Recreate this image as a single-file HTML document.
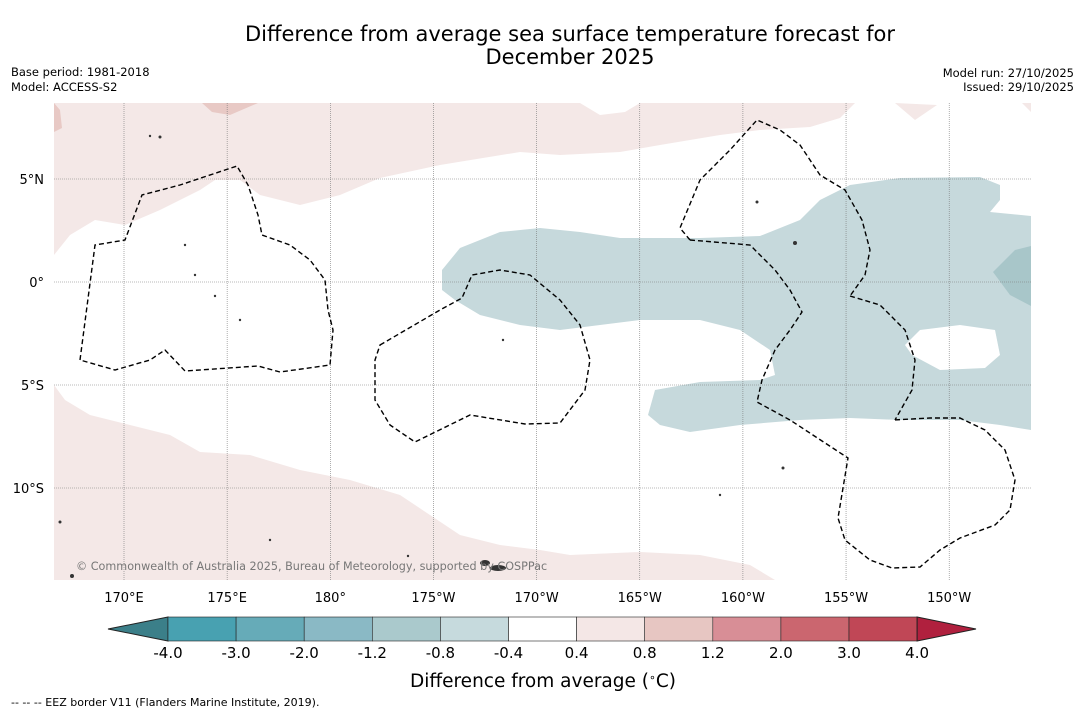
<!DOCTYPE html>
<html><head><meta charset="utf-8"><style>
body{margin:0;background:#fff;font-family:"Liberation Sans","DejaVu Sans",sans-serif;}
svg text{font-family:"DejaVu Sans","Liberation Sans",sans-serif;}
</style></head><body>
<svg id="chart" width="1085" height="713" xmlns="http://www.w3.org/2000/svg">
<text x="570" y="41" font-size="21" text-anchor="middle">Difference from average sea surface temperature forecast for</text>
<text x="570" y="64" font-size="21" text-anchor="middle">December 2025</text>
<text x="11" y="76" font-size="11.5">Base period: 1981-2018</text>
<text x="11" y="91" font-size="11.5">Model: ACCESS-S2</text>
<text x="1074" y="77" font-size="11.5" text-anchor="end">Model run: 27/10/2025</text>
<text x="1074" y="91" font-size="11.5" text-anchor="end">Issued: 29/10/2025</text>
<g>
<rect x="54" y="103" width="977" height="477" fill="#fff"/>
<path fill="#f4e8e7" d="M54,103 L855,103 L840,118 L810,127 L760,130 L720,135 L660,145 L620,152 L560,155 L520,152 L440,165 L380,178 L340,195 L300,205 L260,195 L240,180 L215,180 L200,190 L160,210 L125,225 L95,220 L70,235 L54,255 Z"/>
<path fill="#fff" d="M580,103 L600,115 L625,112 L640,103 Z"/>
<path fill="#e8c9c5" d="M202,103 L258,103 L230,115 L212,112 Z M54,103 L60,110 L62,128 L54,132 Z"/>
<path fill="#f4e8e7" d="M895,103 L937,105 L915,120 Z M1022,103 L1031,103 L1031,112 Z"/>
<path fill="#f4e8e7" d="M54,385 L65,400 L90,415 L130,425 L170,435 L200,452 L250,455 L300,470 L350,480 L400,495 L430,515 L460,535 L500,545 L540,550 L570,555 L640,552 L700,555 L750,565 L775,580 L54,580 Z"/>
<path fill="#c6d9dc" d="M442,270 L460,248 L500,232 L540,228 L580,232 L620,238 L700,238 L760,236 L800,220 L820,200 L850,185 L900,178 L980,177 L1000,185 L1000,200 L990,212 L1031,216 L1031,430 L1000,425 L960,420 L900,420 L850,418 L800,420 L740,425 L690,432 L660,425 L648,415 L655,390 L700,382 L760,380 L775,375 L770,350 L740,330 L700,320 L640,320 L600,325 L560,330 L520,325 L480,315 L455,300 L442,290 Z"/>
<path fill="#fff" d="M905,345 L920,330 L960,325 L995,330 L1000,355 L985,368 L940,370 L912,355 Z"/>
<path fill="#a8c6c9" d="M993,272 L1015,250 L1031,246 L1031,306 L1010,295 Z"/>
<g stroke="#777" stroke-width="0.6" stroke-dasharray="1,1" id="grid"></g>
<g fill="none" stroke="#000" stroke-width="1.4" stroke-dasharray="5,3">
<path d="M80,360 L95,245 L125,240 L142,195 L180,185 L237,166 L248,185 L258,215 L262,235 L290,245 L310,260 L325,280 L328,310 L333,330 L330,365 L280,372 L258,366 L185,371 L165,350 L150,360 L115,370 Z"/>
<path d="M380,345 L440,310 L462,298 L472,275 L500,270 L530,275 L560,300 L580,325 L590,360 L585,390 L560,423 L525,424 L470,415 L415,442 L390,425 L375,400 L375,360 Z"/>
<path d="M690,240 L680,228 L700,180 L730,150 L757,120 L780,130 L800,145 L820,175 L845,190 L862,220 L870,250 L865,275 L850,296"/>
<path d="M690,240 L750,245 L775,270 L790,290 L802,312 L790,330 L775,350 L762,380 L757,402 L790,420 L848,458 L838,518 L845,540 L870,560 L892,568 L920,567 L940,550 L960,538 L995,525 L1010,510 L1015,480 L1005,450 L985,430 L960,418 L930,418 L893,420"/>
<path d="M850,296 L880,305 L905,330 L915,360 L912,390 L895,420"/>
</g>
<g fill="#333">
<circle cx="185" cy="245" r="1.2"/><circle cx="195" cy="275" r="1.2"/><circle cx="215" cy="296" r="1.2"/><circle cx="240" cy="320" r="1.2"/><circle cx="503" cy="340" r="1.2"/><circle cx="795" cy="243" r="2"/><circle cx="757" cy="202" r="1.5"/><circle cx="783" cy="468" r="1.5"/><circle cx="720" cy="495" r="1.2"/><circle cx="60" cy="522" r="1.5"/><circle cx="270" cy="540" r="1.2"/><ellipse cx="498" cy="568" rx="8" ry="3"/><ellipse cx="485" cy="563" rx="5" ry="3"/><circle cx="72" cy="576" r="2"/><circle cx="408" cy="556" r="1.2"/><circle cx="160" cy="137" r="1.5"/><circle cx="150" cy="136" r="1.2"/>
</g>
<text x="76" y="570" font-size="11.2" fill="#777">© Commonwealth of Australia 2025, Bureau of Meteorology, supported by COSPPac</text>
</g>
<g id="axes"></g>
<g id="colorbar"></g>
<text x="543" y="687" font-size="18.5" text-anchor="middle">Difference from average (<tspan baseline-shift="super" font-size="11">∘</tspan>C)</text>
<text x="11" y="706" font-size="11">--  --  -- EEZ border V11 (Flanders Marine Institute, 2019).</text>
</svg>
<script>
const lonLabels=["170°E","175°E","180°","175°W","170°W","165°W","160°W","155°W","150°W"];
const lonValues=[170,175,180,185,190,195,200,205,210];
const latLabels=["5°N","0°","5°S","10°S"];
const latValues=[5,0,-5,-10];
const levels=["-4.0","-3.0","-2.0","-1.2","-0.8","-0.4","0.4","0.8","1.2","2.0","3.0","4.0"];
const binColors=["#48a1b1","#66abb8","#8ab9c5","#aac9cc","#c6dadd","#ffffff","#f4e7e6","#e7c6c2","#d88e96","#cb666f","#c04756"];
const underColor="#3b7f89", overColor="#b0203e";
const NS="http://www.w3.org/2000/svg";
const x=lon=>124+(lon-170)*20.63;
const y=lat=>282-lat*20.6;
const grid=document.getElementById('grid'),axes=document.getElementById('axes'),cb=document.getElementById('colorbar');
function mk(tag,at,parent){const e=document.createElementNS(NS,tag);for(const k in at)e.setAttribute(k,at[k]);parent.appendChild(e);return e;}
lonValues.forEach((v,i)=>{
 const l=mk('line',{x1:x(v),x2:x(v),y1:103,y2:580},grid);
 
 
 const t=mk('text',{x:x(v),y:602,'font-size':13,'text-anchor':'middle'},axes);t.textContent=lonLabels[i];
 
 
});
latValues.forEach((v,i)=>{
 const l=mk('line',{x1:54,x2:1031,y1:y(v),y2:y(v)},grid);
 
 
 const t=mk('text',{x:44,y:y(v)+5,'font-size':13,'text-anchor':'end'},axes);t.textContent=latLabels[i];
 
 
});
const cx0=168,cw=68.1,cy=617,ch=24;
const tri1=mk('polygon',{points:`${cx0},${cy} ${cx0},${cy+ch} 108,${cy+ch/2}`,fill:underColor,stroke:'#222','stroke-width':1},cb);


binColors.forEach((c,i)=>{
 const r=mk('rect',{x:cx0+i*cw,y:cy,width:cw,height:ch,fill:c,stroke:'#222','stroke-width':0.6},cb);
 
 
});
const xe=cx0+binColors.length*cw;
const tri2=mk('polygon',{points:`${xe},${cy} ${xe},${cy+ch} 976,${cy+ch/2}`,fill:overColor,stroke:'#222','stroke-width':1},cb);


levels.forEach((lv,i)=>{
 const t=mk('text',{x:cx0+i*cw,y:658,'font-size':15,'text-anchor':'middle'},cb);t.textContent=lv;
 
 
});
</script>
</body></html>
